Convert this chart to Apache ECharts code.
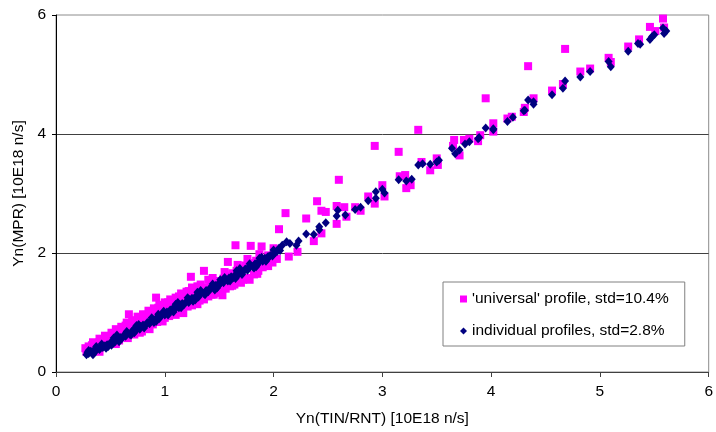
<!DOCTYPE html>
<html>
<head>
<meta charset="utf-8">
<script src="https://cdn.jsdelivr.net/npm/echarts@6/dist/echarts.min.js"></script>
<style>
html,body{margin:0;padding:0;background:#fff;}
#chart{width:716px;height:432px;}
</style>
</head>
<body>
<div id="chart"></div>
<script>
var xTicks = [0, 1, 2, 3, 4, 5, 6];
var yTicks = [0, 2, 4, 6];
var seriesNames = ["'universal' profile, std=10.4%", "individual profiles, std=2.8%"];
var xAxisName = "Yn(TIN/RNT) [10E18 n/s]";
var yAxisName = "Yn(MPR) [10E18 n/s]";

// 'universal' profile (magenta squares): [Yn(TIN/RNT), Yn(MPR)]
var universal = [
[0.27,0.40],[0.28,0.34],[0.30,0.43],[0.31,0.38],[0.33,0.45],[0.35,0.41],[0.36,0.47],[0.38,0.43],
[0.40,0.50],[0.42,0.46],[0.43,0.53],[0.45,0.49],[0.47,0.55],[0.49,0.52],[0.50,0.58],[0.52,0.48],
[0.53,0.61],[0.55,0.56],[0.57,0.63],[0.58,0.53],[0.60,0.66],[0.62,0.60],[0.63,0.70],[0.65,0.58],
[0.67,0.73],[0.67,0.97],[0.69,0.66],[0.70,0.76],[0.72,0.63],[0.74,0.79],[0.75,0.70],[0.77,0.83],
[0.79,0.68],[0.80,0.85],[0.82,0.76],[0.84,0.88],[0.86,0.72],[0.87,0.92],[0.89,0.80],[0.91,0.95],
[0.92,1.25],[0.93,0.84],[0.95,0.99],[0.97,0.87],[0.98,1.03],[1.00,0.91],[1.02,1.06],[1.04,0.94],
[1.05,1.10],[1.07,0.99],[1.09,1.13],[1.11,1.00],[1.12,1.17],[1.14,1.05],[1.16,1.21],[1.17,0.99],
[1.19,1.25],[1.21,1.10],[1.23,1.28],[1.24,1.60],[1.25,1.12],[1.27,1.31],[1.29,1.16],[1.31,1.35],
[1.32,1.20],[1.34,1.39],[1.36,1.70],[1.36,1.22],[1.38,1.42],[1.40,1.27],[1.42,1.46],[1.43,1.30],
[1.45,1.49],[1.47,1.33],[1.49,1.53],[1.51,1.37],[1.53,1.29],[1.54,1.57],[1.56,1.40],[1.58,1.62],
[1.58,1.85],[1.60,1.44],[1.62,1.66],[1.65,2.13],[1.64,1.47],[1.66,1.70],[1.68,1.52],[1.70,1.74],
[1.72,1.55],[1.74,1.79],[1.76,1.58],[1.78,1.55],[1.79,2.12],[1.80,1.83],[1.82,1.64],[1.84,1.87],
[1.86,1.70],[1.87,1.98],[1.89,2.11],[1.90,1.76],[1.93,1.83],[1.95,1.96],[1.97,1.88],[2.00,2.08],
[2.03,1.90],[2.05,2.40],[2.11,2.67],[2.14,1.94],[2.22,2.02],
[0.34,0.50],[0.46,0.60],[0.56,0.68],[0.64,0.78],[0.73,0.86],[0.83,0.96],[0.94,1.08],[1.03,1.17],
[1.13,1.27],[1.22,1.36],[1.33,1.47],[1.44,1.58],[1.55,1.68],[1.67,1.80],[1.76,1.90],
[0.40,0.56],[0.45,0.61],[0.51,0.66],[0.55,0.72],[0.60,0.76],[0.65,0.83],[0.70,0.87],[0.75,0.93],
[0.80,0.97],[0.85,1.03],[0.90,1.07],[0.95,1.13],[1.00,1.17],[1.05,1.22],[1.10,1.25],[1.15,1.32],
[1.20,1.35],[1.25,1.42],[1.30,1.44],[1.40,1.55],
[0.40,0.34],[0.55,0.47],[0.66,0.57],[0.77,0.66],[0.98,0.85],[1.10,0.96],[1.30,1.14],
[1.45,1.30],[1.62,1.45],[1.70,1.50],[1.85,1.65],[1.95,1.78],[1.99,1.84],
[2.30,2.58],[2.37,2.20],[2.40,2.87],[2.44,2.71],[2.48,2.69],[2.44,2.33],
[2.58,2.79],[2.60,3.23],[2.58,2.49],[2.65,2.77],[2.67,2.61],[2.75,2.77],[2.80,2.71],[2.87,2.95],
[2.93,2.83],[2.93,3.80],[3.00,3.14],[3.02,2.95],[3.15,3.70],[3.16,3.29],[3.21,3.31],[3.22,3.09],
[3.26,3.14],[3.33,4.07],[3.36,3.53],[3.44,3.39],[3.50,3.59],[3.51,3.48],
[3.65,3.80],[3.66,3.90],[3.71,3.64],[3.75,3.90],[3.80,3.92],[3.88,3.88],[3.90,3.98],[3.95,4.60],
[4.02,4.18],[4.02,4.04],[4.15,4.26],[4.19,4.29],[4.30,4.37],[4.31,4.44],[4.34,5.14],[4.39,4.60],
[4.56,4.73],[4.66,4.84],[4.68,5.43],[4.82,5.05],[4.91,5.10],[5.08,5.28],[5.10,5.21],[5.26,5.47],
[5.36,5.59],[5.46,5.80],[5.51,5.73],[5.58,5.94],[5.59,5.79]
];

// individual profiles (navy diamonds): [Yn(TIN/RNT), Yn(MPR)]
var individual = [
[0.28,0.29],[0.29,0.33],[0.30,0.31],[0.32,0.35],[0.33,0.32],[0.35,0.37],[0.36,0.34],[0.38,0.39],
[0.40,0.38],[0.41,0.42],[0.43,0.41],[0.45,0.44],[0.47,0.46],[0.48,0.43],[0.50,0.49],[0.52,0.51],
[0.54,0.50],[0.55,0.55],[0.57,0.54],[0.59,0.58],[0.61,0.57],[0.62,0.61],[0.64,0.60],[0.66,0.65],
[0.68,0.63],[0.70,0.68],[0.71,0.71],[0.73,0.69],[0.75,0.74],[0.77,0.72],[0.78,0.77],[0.80,0.79],
[0.82,0.78],[0.84,0.83],[0.86,0.81],[0.87,0.86],[0.89,0.88],[0.91,0.87],[0.93,0.92],[0.95,0.90],
[0.96,0.95],[0.98,0.97],[1.00,0.96],[1.02,1.01],[1.04,0.99],[1.05,1.04],[1.07,1.06],[1.09,1.05],
[1.11,1.10],[1.13,1.08],[1.14,1.13],[1.16,1.15],[1.18,1.14],[1.20,1.19],[1.22,1.17],[1.23,1.22],
[1.25,1.24],[1.27,1.23],[1.29,1.28],[1.31,1.26],[1.32,1.31],[1.34,1.33],[1.36,1.32],[1.38,1.37],
[1.40,1.35],[1.41,1.40],[1.43,1.42],[1.45,1.41],[1.47,1.46],[1.49,1.44],[1.50,1.49],[1.52,1.51],
[1.54,1.50],[1.56,1.55],[1.58,1.53],[1.59,1.58],[1.61,1.60],[1.63,1.59],[1.65,1.64],[1.67,1.62],
[1.68,1.67],[1.70,1.69],[1.72,1.68],[1.74,1.73],[1.76,1.71],[1.77,1.76],[1.79,1.78],[1.81,1.77],
[1.83,1.82],[1.85,1.80],[1.86,1.85],[1.88,1.87],[1.90,1.86],[1.92,1.91],[1.94,1.89],[1.95,1.94],
[1.97,1.96],[1.99,1.95],[2.01,2.00],[2.03,2.02],[2.06,2.04],
[0.30,0.36],[0.42,0.47],[0.53,0.57],[0.65,0.68],[0.76,0.80],[0.88,0.91],[0.99,1.02],[1.10,1.14],
[1.21,1.25],[1.33,1.37],[1.44,1.48],[1.55,1.59],[1.66,1.70],[1.78,1.82],[1.89,1.93],[2.00,2.05],
[0.34,0.29],[0.46,0.40],[0.58,0.51],[0.69,0.62],[0.81,0.74],[0.92,0.85],[1.03,0.96],[1.15,1.08],
[1.26,1.19],[1.37,1.30],[1.48,1.41],[1.60,1.53],[1.71,1.64],[1.82,1.75],[1.93,1.86],
[0.37,0.43],[0.56,0.62],[0.74,0.78],[0.94,0.97],[1.12,1.17],[1.30,1.34],[1.51,1.55],[1.69,1.74],[1.87,1.91],
[0.51,0.45],[0.72,0.66],[0.90,0.83],[1.08,1.01],[1.28,1.21],[1.46,1.38],[1.65,1.57],[1.84,1.77],
[2.05,2.08],[2.08,2.13],[2.12,2.19],[2.15,2.16],[2.21,2.13],[2.23,2.20],
[2.30,2.32],[2.37,2.31],[2.42,2.44],[2.42,2.39],[2.48,2.51],
[2.59,2.72],[2.58,2.62],[2.66,2.64],[2.75,2.73],[2.80,2.77],[2.87,2.88],[2.94,2.92],[2.94,3.03],
[3.00,3.07],[3.02,3.01],[3.15,3.23],[3.22,3.21],[3.27,3.24],[3.33,3.48],[3.37,3.50],[3.44,3.49],
[3.50,3.53],[3.52,3.56],[3.64,3.76],[3.67,3.67],[3.71,3.73],[3.76,3.83],[3.80,3.87],[3.88,3.92],
[3.89,3.94],[3.95,4.10],[4.02,4.07],[4.02,4.09],[4.15,4.21],[4.20,4.28],[4.30,4.39],[4.31,4.40],
[4.34,4.57],[4.39,4.54],[4.39,4.50],[4.56,4.66],[4.66,4.77],[4.68,4.89],[4.82,4.96],[4.91,5.05],
[5.08,5.22],[5.10,5.13],[5.26,5.39],[5.35,5.52],[5.37,5.51],[5.46,5.59],[5.48,5.64],[5.50,5.67],
[5.58,5.78],[5.59,5.69],[5.61,5.73]
];

var font = "'Liberation Sans', Arial, sans-serif";
var chart = echarts.init(document.getElementById('chart'), null, {renderer: 'canvas'});
chart.setOption({
  animation: false,
  backgroundColor: '#ffffff',
  grid: {left: 56, right: 7, top: 15, bottom: 60, show: true, borderColor: '#8c8c8c', borderWidth: 1, backgroundColor: 'transparent'},
  legend: {
    orient: 'vertical', left: 443, top: 282,
    padding: [9, 16, 7, 17], itemGap: 16,
    itemWidth: 7, itemHeight: 7,
    backgroundColor: '#ffffff', borderColor: '#808080', borderWidth: 1,
    textStyle: {fontFamily: font, fontSize: 15.5, color: '#000', lineHeight: 16},
    data: [
      {name: seriesNames[0], icon: 'rect'},
      {name: seriesNames[1], icon: 'diamond'}
    ]
  },
  xAxis: {
    type: 'value', min: xTicks[0], max: xTicks[xTicks.length - 1], interval: 1,
    name: xAxisName, nameLocation: 'middle', nameGap: 39,
    nameTextStyle: {fontFamily: font, fontSize: 15.5, color: '#000'},
    axisLine: {show: true, onZero: false, lineStyle: {color: '#404040', width: 1}},
    axisTick: {show: true, inside: false, length: 5, lineStyle: {color: '#404040'}},
    axisLabel: {fontFamily: font, fontSize: 15.5, color: '#000', margin: 12},
    splitLine: {show: false}
  },
  yAxis: {
    type: 'value', min: yTicks[0], max: yTicks[yTicks.length - 1], interval: 2,
    name: yAxisName, nameLocation: 'middle', nameGap: 29,
    nameTextStyle: {fontFamily: font, fontSize: 15.5, color: '#000'},
    axisLine: {show: true, onZero: false, lineStyle: {color: '#000', width: 1}},
    axisTick: {show: true, inside: false, length: 4, lineStyle: {color: '#000'}},
    axisLabel: {fontFamily: font, fontSize: 15.5, color: '#000', margin: 10},
    splitLine: {show: true, showMinLine: false, showMaxLine: false, lineStyle: {color: '#404040', width: 1}}
  },
  series: [
    {
      name: seriesNames[0], type: 'scatter', data: universal,
      symbol: 'rect', symbolSize: 8,
      itemStyle: {color: '#ff00ff', opacity: 1}
    },
    {
      name: seriesNames[1], type: 'scatter', data: individual,
      symbol: 'diamond', symbolSize: [8, 9],
      itemStyle: {color: '#000080', opacity: 1}
    }
  ]
});
</script>
</body>
</html>
